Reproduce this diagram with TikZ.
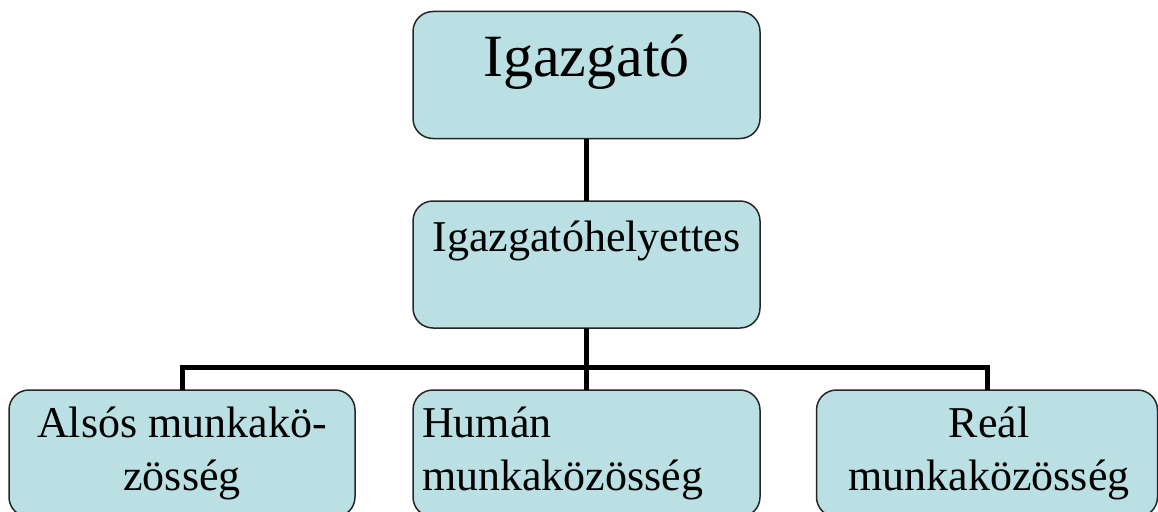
\documentclass[tikz,border=0pt]{standalone}
\usepackage{fontspec}
\setmainfont{Liberation Serif}
\usetikzlibrary{positioning,calc}
\definecolor{boxcol}{RGB}{186,224,227}
\tikzset{
  orgbox/.style={draw=black!85,line width=1.5pt,fill=boxcol,rounded corners=20pt,
                 minimum width=#1,minimum height=127pt,inner sep=0pt,outer sep=0pt},
  orgbox/.default=347pt,
  link/.style={line width=5pt,black},
  bigtxt/.style={font=\fontsize{60}{72}\selectfont,inner sep=0pt},
  midtxt/.style={font=\fontsize{44}{53}\selectfont,inner sep=0pt}}

\begin{document}
\begin{tikzpicture}[x=1pt,y=-1pt]
  \useasboundingbox (0,0) rectangle (1158,511);

  % BOXES
  \node[orgbox] (boss) at (586.5,75) {};
  \node[orgbox] (dep) at (586.5,264.5) {};
  \node[orgbox=346pt,anchor=north] (alsos) at (182,390) {};
  \node[orgbox,anchor=north] (human) at (586.5,390) {};
  \node[orgbox=341pt,anchor=north] (real) at (987,390) {};

  % LINKS
  \coordinate (bus) at (586.5,367);
  \draw[link] (boss) -- (dep);
  \draw[link] (dep) -- (human);
  \draw[link] (alsos.north) |- (bus) -| (real.north);

  % TEXTS (base = last line)
  \node[bigtxt,anchor=base] (t0) at ($(boss.north)+(0,65)$) {Igazgató};
  \node[midtxt,anchor=base] (t1) at ($(dep.north)+(0,50)$) {Igazgatóhelyettes};
  \node[midtxt,align=center,anchor=base] (t2)
    at ($(alsos.north)+(0,100)$) {Alsós munkakö-\\zösség};
  \node[midtxt,align=left,anchor=base west] (t3)
    at ($(human.north west)+(9,100)$) {Humán\\munkaközösség};
  \node[midtxt,align=center,anchor=base] (t4)
    at ($(real.north)+(2,100)$) {Reál\\munkaközösség};
\end{tikzpicture}
\end{document}
